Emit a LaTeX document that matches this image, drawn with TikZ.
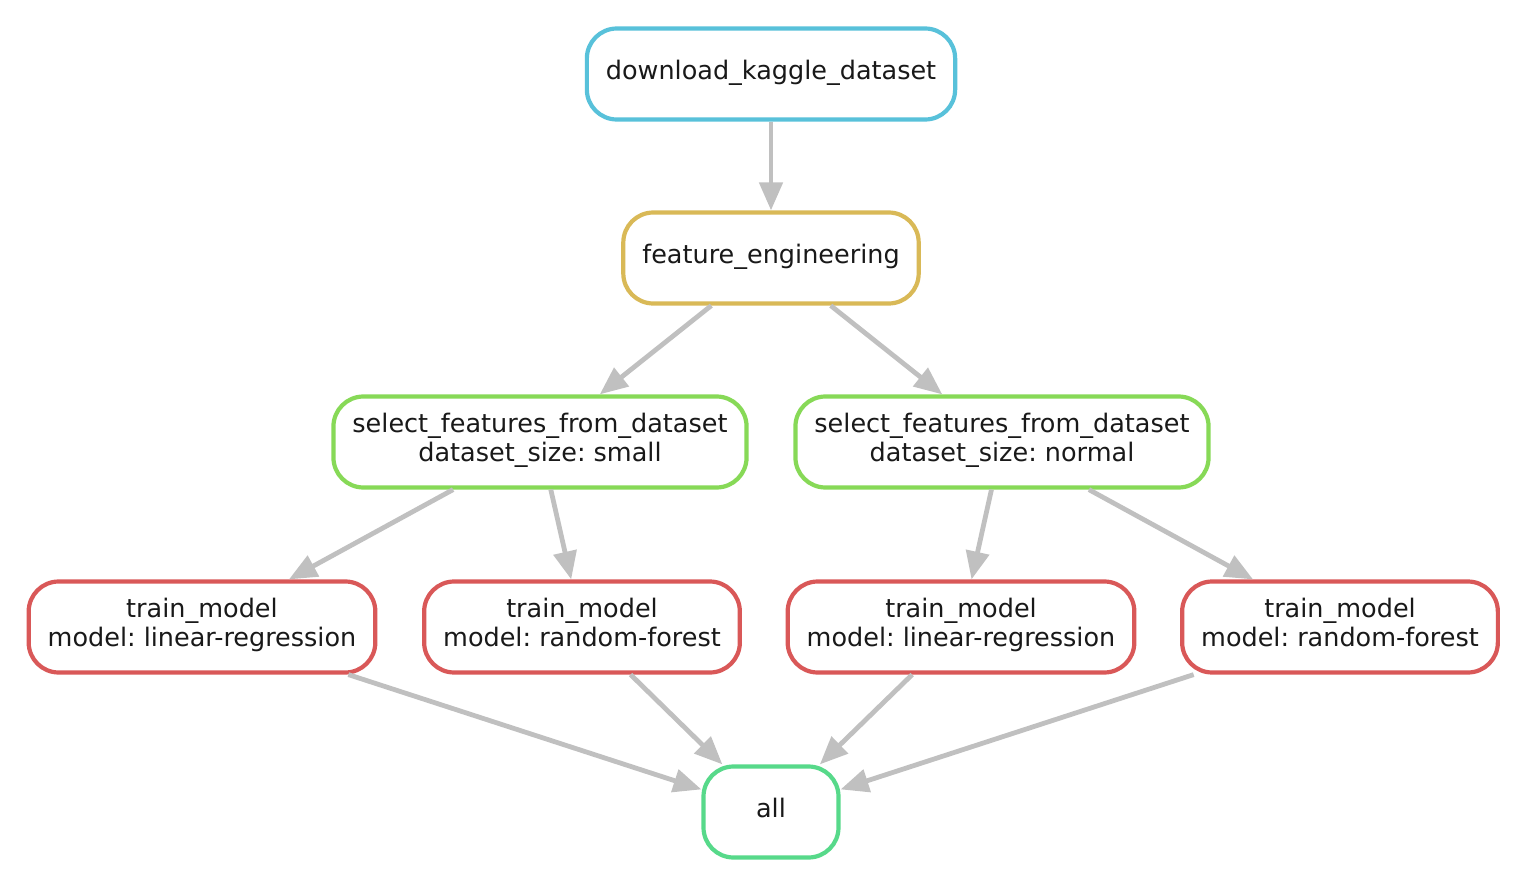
\documentclass[tikz,border=0pt]{standalone}
\usepackage{fontspec}
\setmainfont{DejaVu Sans}
\usetikzlibrary{arrows.meta, positioning}
\frenchspacing

\definecolor{rulecyan}{RGB}{88,193,218}
\definecolor{rulegold}{RGB}{217,185,87}
\definecolor{rulelime}{RGB}{135,217,87}
\definecolor{rulered}{RGB}{217,88,88}
\definecolor{rulegreen}{RGB}{87,217,138}
\definecolor{edgegray}{RGB}{192,192,192}
\definecolor{labelink}{RGB}{25,25,25}

\tikzset{
    rule/.style={draw, line width=2.1pt, rounded corners=15pt, fill=white,
        align=center, inner xsep=9.5pt, inner ysep=0pt, minimum height=45.5pt,
        text=labelink, font=\fontsize{12.75}{14.5}\selectfont,
        execute at begin node=\strut, execute at end node=\strut},
    dep/.style={draw=edgegray, line width=2.4pt,
        -{Triangle[length=14pt,width=11.5pt]}}
}

\begin{document}
\begin{tikzpicture}[x=0.5pt, y=-0.5pt]
\useasboundingbox (0,0) rectangle (1526,888);

\node[rule, draw=rulecyan] at (771,74) (dl) {download\_kaggle\_dataset};
\node[rule, draw=rulegold] at (771,258) (fe) {feature\_engineering};

\node[rule, draw=rulelime] at (540,442) (sels) {select\_features\_from\_dataset\\dataset\_size: small};
\node[rule, draw=rulelime] at (1002,442) (seln) {select\_features\_from\_dataset\\dataset\_size: normal};

\node[rule, draw=rulered] at (202,627) (tr1) {train\_model\\model: linear-regression};
\node[rule, draw=rulered] at (582,627) (tr2) {train\_model\\model: random-forest};
\node[rule, draw=rulered] at (961,627) (tr3) {train\_model\\model: linear-regression};
\node[rule, draw=rulered] at (1340,627) (tr4) {train\_model\\model: random-forest};

\node[rule, draw=rulegreen, minimum width=67.5pt] at (771,812) (all) {all};

\draw[dep] (dl) -- (fe);
\draw[dep] (fe) -- (sels);
\draw[dep] (fe) -- (seln);

\draw[dep] (sels) -- (tr1);
\draw[dep] (sels) -- (tr2);
\draw[dep] (seln) -- (tr3);
\draw[dep] (seln) -- (tr4);

\draw[dep] (tr1) -- (all);
\draw[dep] (tr2) -- (all);
\draw[dep] (tr3) -- (all);
\draw[dep] (tr4) -- (all);
\end{tikzpicture}
\end{document}
